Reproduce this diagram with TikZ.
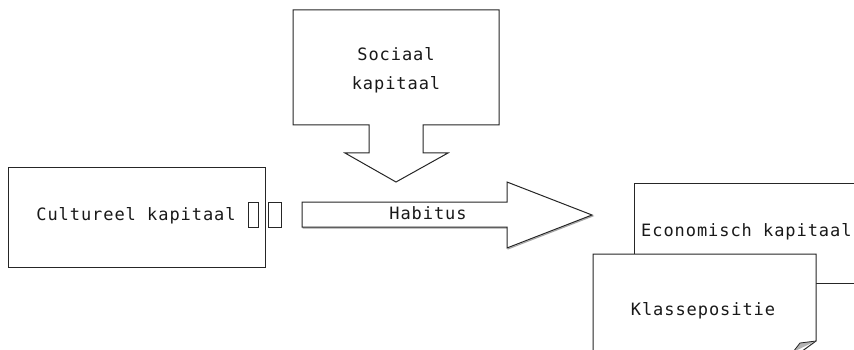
\documentclass[tikz,border=0pt]{standalone}
\usepackage{fontspec}
\setmonofont[LetterSpace=5.5]{DejaVu Sans Mono}
\usepackage{tikz}
\usetikzlibrary{positioning}
\tikzset{
	every node/.append style={
		font={\ttfamily\fontsize{17}{24}\selectfont},
		inner sep=0pt,
	},
	outline/.append style={
		draw=black!85,
		line width=1pt,
		fill=white,
	},
	shade/.append style={
		draw=black!35,
		line width=1pt,
	},
}

\begin{document}
\begin{tikzpicture}[
	x=1pt, y=-1pt,
	labe/.style = {align=center, text=black!90},
	smallbox/.style = {draw=black!85, line width=1pt}
	]
	\useasboundingbox (0,0) rectangle (854,350);
	\clip (0,0) rectangle (854,350);
	
	% Cultureel kapitaal
	\draw[outline] (8,167) rectangle (265,267);
	\node[labe] (cult) at (136,216) {Cultureel kapitaal};
	\draw[smallbox] (248,202) rectangle (258,227);
	\draw[smallbox] (268,202) rectangle (281,227);
	
	% Sociaal kapitaal (box with arrow down)
	\draw[outline] (293,10) -- (499,10) -- (499,125) -- (423,125) -- (423,153)
		-- (448,153) -- (396,182) -- (345,153) -- (369,153) -- (369,125)
		-- (293,125) -- cycle;
	\node[labe] (soc) at (396,70) {Sociaal\\[5pt]kapitaal};
	
	% Habitus arrow
	\draw[shade] (303,203) -- (508,203) -- (508,183) -- (593,216)
		-- (508,249) -- (508,228) -- (303,228) -- cycle;
	\draw[outline] (302,202) -- (507,202) -- (507,182) -- (592,215)
		-- (507,248) -- (507,227) -- (302,227) -- cycle;
	\node[labe] (hab) at (428,213) {Habitus};
	
	% Economisch kapitaal
	\draw[outline] (634,183) rectangle (870,283);
	\node[labe, anchor=west] (eco) at (641,232) {Economisch kapitaal};
	
	% Klassepositie (note with folded corner)
	\draw[outline] (593,380) -- (593,254) -- (816,254) -- (816,341) -- (790,360);
	\fill[black!30] (816,341) -- (800,343) -- (793,352) -- cycle;
	\draw[black!85, line width=0.8pt] (816,341) -- (800,343) -- (793,352);
	\node[labe] (klas) at (703,311) {Klassepositie};
	
\end{tikzpicture}
\end{document}
